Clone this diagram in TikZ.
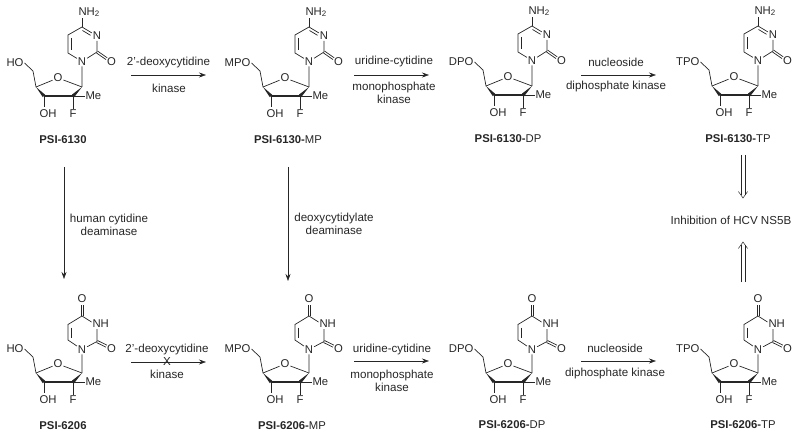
\documentclass[tikz,border=0pt]{standalone}
\usepackage{fontspec}
\setmainfont{Liberation Sans}
\usetikzlibrary{arrows.meta}
\begin{document}
\begin{tikzpicture}[
        x=1pt, y=-1pt,
        line width=0.7pt, color=black!85,
        atom/.style={inner sep=0.7pt, font=\fontsize{11.3}{13}\selectfont},
        word/.style={inner sep=0pt, align=center, font=\fontsize{11.6}{13}\selectfont},
        rxn/.style={-{Stealth[length=7pt,width=5pt]}, line width=0.6pt},
        imply/.style={line width=0.5pt},
        pics/sugar/.style={code={
            \node[atom, anchor=east] (r) at (24.5,63) {#1};
            \node[atom] (o) at (58,78) {O};
            \node[atom] (oh) at (48,114) {OH};
            \node[atom] (f) at (73,114) {F};
            \node[atom, anchor=west] (me) at (84.5,96) {Me};
            \coordinate (ch2) at (33,71);
            \coordinate (c4p) at (36,87);
            \coordinate (c3p) at (44,96);
            \coordinate (c2p) at (73,96);
            \coordinate (c1p) at (82,87);
            \coordinate (ohb) at (44,107);
            \draw (r.east) -- (ch2) -- (c4p) -- (o) -- (c1p);
            \fill (c4p) -- (42.8,97.2) -- (45.2,94.8) -- cycle;
            \draw[line width=2.2pt] (c3p) -- (c2p);
            \fill (c1p) -- (72,94.6) -- (74,97.4) -- cycle;
            \draw (c3p) -- (ohb);
            \draw (c2p) -- (f);
            \draw[line width=0.6pt] (c2p) -- (me);
        }},
        pics/cytosine/.style={code={
            \node[atom] (n1) at (82,61.5) {N};
            \node[atom] (n3) at (97,36) {N};
            \node[atom] (o2) at (111.5,62) {O};
            \node[atom, anchor=west] (nh2) at (77.5,12) {NH\textsubscript{2}};
            \coordinate (nb) at (82,18.5);
            \coordinate (c2) at (97,52);
            \coordinate (c4) at (82,27);
            \coordinate (c5) at (68,35);
            \coordinate (c6) at (68,53);
            \draw (c1p) -- (n1) -- (c2) -- (n3) -- (c4) -- (c5) -- (c6) -- (n1);
            \draw (c4) -- (nb);
            \draw (71,38) -- (71,50);
            \draw (82.5,30.5) -- (90.5,35.3);
            \draw (97.6,51.1) -- (107.2,57.8);
            \draw (96.4,52.9) -- (106,59.6);
        }},
        pics/uracil/.style={code={
            \node[atom] (n1) at (82,63.5) {N};
            \node[atom, anchor=west] (n3) at (91.5,37.5) {NH};
            \node[atom] (o2) at (111.5,62.5) {O};
            \node[atom] (o4) at (82,12.5) {O};
            \coordinate (n3a) at (91.5,36);
            \coordinate (n3b) at (97,43);
            \coordinate (c2) at (97,55.5);
            \coordinate (c4) at (82,30);
            \coordinate (c5) at (68,38.5);
            \coordinate (c6) at (68,54);
            \draw (c1p) -- (n1) -- (c2) -- (n3b);
            \draw (n3a) -- (c4) -- (c5) -- (c6) -- (n1);
            \draw (71,41.5) -- (71,52);
            \draw (80.9,30) -- (80.9,18.5);
            \draw (83.1,30) -- (83.1,18.5);
            \draw (97.5,54.5) -- (107,59.2);
            \draw (96.5,56.5) -- (106,61.2);
        }}
    ]
    \useasboundingbox (0,0) rectangle (800,438);
    % top row
    \foreach \nm/\px/\py/\rgrp in {a/0/0/HO, b/227/0/MPO, c/450/-1/DPO, d/676/-1/TPO} {
        \pic[name prefix=\nm] at (\px,\py) {sugar=\rgrp};
        \pic[name prefix=\nm] at (\px,\py) {cytosine};
    }
    % bottom row
    \foreach \nm/\px/\rgrp in {e/0/HO, f/227/MPO, g/450/DPO, h/676/TPO} {
        \pic[name prefix=\nm] at (\px,286) {sugar=\rgrp};
        \pic[name prefix=\nm] at (\px,286) {uracil};
    }
    \node[atom] (lbla) at (63,140) {\textbf{PSI-6130}};
    \node[atom] (lblb) at (288,140) {\textbf{PSI-6130-}MP};
    \node[atom] (lblc) at (508,139) {\textbf{PSI-6130-}DP};
    \node[atom] (lbld) at (738,139) {\textbf{PSI-6130-}TP};
    \node[atom] (lble) at (63,426) {\textbf{PSI-6206}};
    \node[atom] (lblf) at (292,426) {\textbf{PSI-6206-}MP};
    \node[atom] (lblg) at (512,425) {\textbf{PSI-6206-}DP};
    \node[atom] (lblh) at (743,425) {\textbf{PSI-6206-}TP};
    % free ends of the arrows
    \coordinate (k1a) at (131,75);
    \coordinate (k1b) at (206,75);
    \coordinate (k2a) at (354,75);
    \coordinate (k2b) at (429,75);
    \coordinate (k3a) at (581,75);
    \coordinate (k3b) at (656,75);
    \coordinate (v1a) at (64,167);
    \coordinate (v1b) at (64,279);
    \coordinate (v2a) at (288,167);
    \coordinate (v2b) at (288,281);
    \coordinate (k4a) at (131,362);
    \coordinate (k4b) at (206,362);
    \coordinate (k5a) at (354,361);
    \coordinate (k5b) at (429,361);
    \coordinate (k6a) at (581,361);
    \coordinate (k6b) at (656,361);
    \foreach \from/\to in {k1a/k1b, k2a/k2b, k3a/k3b, v1a/v1b, v2a/v2b, k4a/k4b, k5a/k5b, k6a/k6b}
        \draw[rxn] (\from) -- (\to);
    \node[word] (hit) at (167,362) {X};
    % enzymes
    \node[word] (e1) at (168.5,63) {2'-deoxycytidine};
    \node[word] (e1k) at (169,88) {kinase};
    \node[word] (e2) at (394,62) {uridine-cytidine};
    \node[word] (e2k) at (394,93) {monophosphate\\kinase};
    \node[word] (e3) at (616,62) {nucleoside};
    \node[word] (e3k) at (616,87) {diphosphate kinase};
    \node[word] (e4) at (109,224.5) {human cytidine\\deaminase};
    \node[word] (e5) at (334,223.5) {deoxycytidylate\\deaminase};
    \node[word] (e6) at (167,349) {2'-deoxycytidine};
    \node[word] (e6k) at (167,374) {kinase};
    \node[word] (e7) at (392,349) {uridine-cytidine};
    \node[word] (e7k) at (392,380.5) {monophosphate\\kinase};
    \node[word] (e8) at (615,348) {nucleoside};
    \node[word] (e8k) at (615,373) {diphosphate kinase};
    % target
    \node[word] (ns5b) at (731,220) {Inhibition of HCV NS5B};
    \coordinate (i1a) at (743,155);
    \coordinate (i1b) at (743,198);
    \coordinate (i2a) at (743,282);
    \coordinate (i2b) at (743,242);
    \foreach \tail/\tip/\dir in {i1a/i1b/1, i2a/i2b/-1} {
        \draw[imply] ([xshift=-1.9pt]\tail) -- ([xshift=-1.9pt,yshift=\dir*3pt]\tip);
        \draw[imply] ([xshift=1.9pt]\tail) -- ([xshift=1.9pt,yshift=\dir*3pt]\tip);
        \draw[imply] ([xshift=-4.6pt,yshift=\dir*6.5pt]\tip) -- (\tip) -- ([xshift=4.6pt,yshift=\dir*6.5pt]\tip);
    }
\end{tikzpicture}
\end{document}
